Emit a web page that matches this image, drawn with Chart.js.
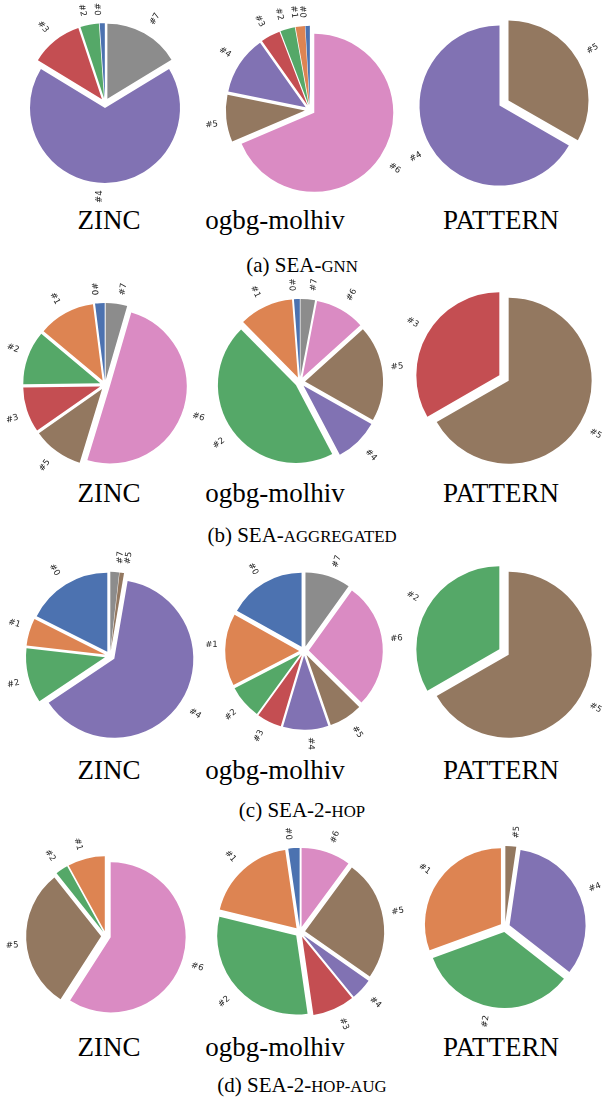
<!DOCTYPE html>
<html lang="en">
<head>
    <meta charset="UTF-8">
    <title>SEA cluster shares</title>
    <script src="https://cdn.jsdelivr.net/npm/chart.js"></script>
    <style>
        body {
            margin: 0;
            width: 602px;
            height: 1105px;
            position: relative;
            overflow: hidden;
            background: #fff;
            color: #000;
            font-family: "Liberation Serif", "Times New Roman", serif;
        }
        canvas {
            position: absolute;
        }
        .name {
            position: absolute;
            transform: translate(-50%, -50%);
            font-size: 27px;
            line-height: 1;
            white-space: nowrap;
        }
        .cap {
            position: absolute;
            left: 302px;
            transform: translate(-50%, -50%);
            font-size: 21px;
            line-height: 1;
            white-space: nowrap;
        }
        .sc { font-size: 0.8em; } /* fake small caps */
    </style>
</head>
<body>
    <div class="name" style="left:109px; top:220px">ZINC</div>
    <div class="name" style="left:275px; top:220px">ogbg-molhiv</div>
    <div class="name" style="left:501px; top:220px">PATTERN</div>
    <div class="cap" style="top:265px">(a) SEA-<span class="sc">GNN</span></div>

    <div class="name" style="left:109px; top:493px">ZINC</div>
    <div class="name" style="left:275px; top:493px">ogbg-molhiv</div>
    <div class="name" style="left:501px; top:493px">PATTERN</div>
    <div class="cap" style="top:535px">(b) SEA-<span class="sc">AGGREGATED</span></div>

    <div class="name" style="left:109px; top:770px">ZINC</div>
    <div class="name" style="left:275px; top:770px">ogbg-molhiv</div>
    <div class="name" style="left:501px; top:770px">PATTERN</div>
    <div class="cap" style="top:810px">(c) SEA-2-<span class="sc">HOP</span></div>

    <div class="name" style="left:109px; top:1047px">ZINC</div>
    <div class="name" style="left:275px; top:1047px">ogbg-molhiv</div>
    <div class="name" style="left:501px; top:1047px">PATTERN</div>
    <div class="cap" style="top:1085px">(d) SEA-2-<span class="sc">HOP-AUG</span></div>

    <script>
        // cluster ids and their share (%), listed counter-clockwise from 12 o'clock
        const gnnZincLabels = ['#0', '#2', '#3', '#4', '#7'];
        const gnnZincValues = [1.1, 4.0, 11.2, 67.4, 16.3];
        const gnnMolhivLabels = ['#0', '#1', '#2', '#3', '#4', '#5', '#6'];
        const gnnMolhivValues = [0.9, 1.9, 3.0, 4.0, 12.0, 9.6, 68.6];
        const gnnPatternLabels = ['#4', '#5'];
        const gnnPatternValues = [66.7, 33.3];

        const aggZincLabels = ['#0', '#1', '#2', '#3', '#5', '#6', '#7'];
        const aggZincValues = [2.0, 11.9, 11.3, 9.5, 10.6, 50.2, 4.5];
        const aggMolhivLabels = ['#0', '#1', '#2', '#4', '#5', '#6', '#7'];
        const aggMolhivValues = [1.2, 11.2, 45.3, 9.1, 19.9, 10.3, 3.0];
        const aggPatternLabels = ['#3', '#5'];
        const aggPatternValues = [33.3, 66.7];

        const hopZincLabels = ['#0', '#1', '#2', '#4', '#5', '#7'];
        const hopZincValues = [17.6, 5.6, 11.2, 62.9, 0.9, 1.8];
        const hopMolhivLabels = ['#0', '#1', '#2', '#3', '#4', '#5', '#6', '#7'];
        const hopMolhivValues = [16.9, 15.7, 7.4, 5.4, 9.9, 7.3, 27.5, 9.9];
        const hopPatternLabels = ['#2', '#5'];
        const hopPatternValues = [33.3, 66.7];

        const augZincLabels = ['#1', '#2', '#5', '#6'];
        const augZincValues = [8.0, 2.7, 30.2, 59.1];
        const augMolhivLabels = ['#0', '#1', '#2', '#3', '#4', '#5', '#6'];
        const augMolhivValues = [2.3, 18.9, 31.1, 8.6, 4.4, 24.6, 10.1];
        const augPatternLabels = ['#1', '#2', '#4', '#5'];
        const augPatternValues = [30.6, 33.8, 33.3, 2.3];

        const palette = ['#4C72B0', '#DD8452', '#55A868', '#C44E52', '#8172B3', '#937860', '#DA8BC3', '#8C8C8C'];
        const explodeFrac = 0.065;
        const SIZE = 230;

        // where each pie sits on the page (centre + radius in px)
        const pies = [
            { labels: gnnZincLabels, values: gnnZincValues, cx: 105, cy: 103, r: 75 },
            { labels: gnnMolhivLabels, values: gnnMolhivValues, cx: 310, cy: 110, r: 79 },
            { labels: gnnPatternLabels, values: gnnPatternValues, cx: 504, cy: 103, r: 80 },
            { labels: aggZincLabels, values: aggZincValues, cx: 105, cy: 385, r: 77 },
            { labels: aggMolhivLabels, values: aggMolhivValues, cx: 300, cy: 382, r: 78 },
            { labels: aggPatternLabels, values: aggPatternValues, cx: 504, cy: 378, r: 83 },
            { labels: hopZincLabels, values: hopZincValues, cx: 110, cy: 656, r: 79 },
            { labels: hopMolhivLabels, values: hopMolhivValues, cx: 304, cy: 651, r: 74 },
            { labels: hopPatternLabels, values: hopPatternValues, cx: 504, cy: 652, r: 83 },
            { labels: augZincLabels, values: augZincValues, cx: 106, cy: 936, r: 75 },
            { labels: augMolhivLabels, values: augMolhivValues, cx: 300, cy: 932, r: 79 },
            { labels: augPatternLabels, values: augPatternValues, cx: 505, cy: 927, r: 76 }
        ];

        // push every wedge out along its bisector, like matplotlib's explode
        const explode = {
            id: 'explode',
            afterDatasetsUpdate(chart) {
                chart.getDatasetMeta(0).data.forEach(arc => {
                    const mid = (arc.startAngle + arc.endAngle) / 2;
                    const d = arc.outerRadius * explodeFrac;
                    arc.x += Math.cos(mid) * d;
                    arc.y += Math.sin(mid) * d;
                });
            }
        };

        // rotated wedge labels (rotatelabels=True look)
        const sliceLabels = {
            id: 'sliceLabels',
            afterDatasetsDraw(chart) {
                const ctx = chart.ctx;
                const names = chart.data.labels;
                ctx.save();
                ctx.font = '8.5px "DejaVu Sans"';
                ctx.fillStyle = '#262626';
                ctx.textAlign = 'center';
                ctx.textBaseline = 'middle';
                chart.getDatasetMeta(0).data.forEach((arc, i) => {
                    const mid = (arc.startAngle + arc.endAngle) / 2;
                    const r = arc.outerRadius * 1.1;
                    const ax = arc.x + Math.cos(mid) * r;
                    const ay = arc.y + Math.sin(mid) * r;
                    const right = Math.cos(mid) >= 0;
                    const rot = right ? mid : mid + Math.PI;
                    const w = ctx.measureText(names[i]).width;
                    const h = 9.5;
                    const bw = Math.abs(w * Math.cos(rot)) + Math.abs(h * Math.sin(rot));
                    const bh = Math.abs(w * Math.sin(rot)) + Math.abs(h * Math.cos(rot));
                    const tx = ax + (right ? bw / 2 : -bw / 2);
                    const ty = ay + (Math.sin(mid) >= 0 ? bh / 2 : -bh / 2);
                    ctx.save();
                    ctx.translate(tx, ty);
                    ctx.rotate(rot);
                    ctx.fillText(names[i], 0, 0);
                    ctx.restore();
                });
                ctx.restore();
            }
        };

        pies.forEach(p => {
            const canvas = document.createElement('canvas');
            canvas.width = SIZE;
            canvas.height = SIZE;
            canvas.style.left = (p.cx - SIZE / 2) + 'px';
            canvas.style.top = (p.cy - SIZE / 2) + 'px';
            document.body.appendChild(canvas);

            // Chart.js goes clockwise, the original goes counter-clockwise -> reverse
            const labels = p.labels.slice().reverse();
            const values = p.values.slice().reverse();

            new Chart(canvas.getContext('2d'), {
                type: 'pie',
                data: {
                    labels: labels,
                    datasets: [{
                        data: values,
                        backgroundColor: labels.map(l => palette[parseInt(l.slice(1))]),
                        borderWidth: 0
                    }]
                },
                options: {
                    responsive: false,
                    animation: false,
                    events: [],
                    radius: p.r,
                    rotation: 0,
                    layout: { padding: 0 },
                    plugins: {
                        legend: { display: false },
                        tooltip: { enabled: false }
                    }
                },
                plugins: [explode, sliceLabels]
            });
        });
    </script>
</body>
</html>
